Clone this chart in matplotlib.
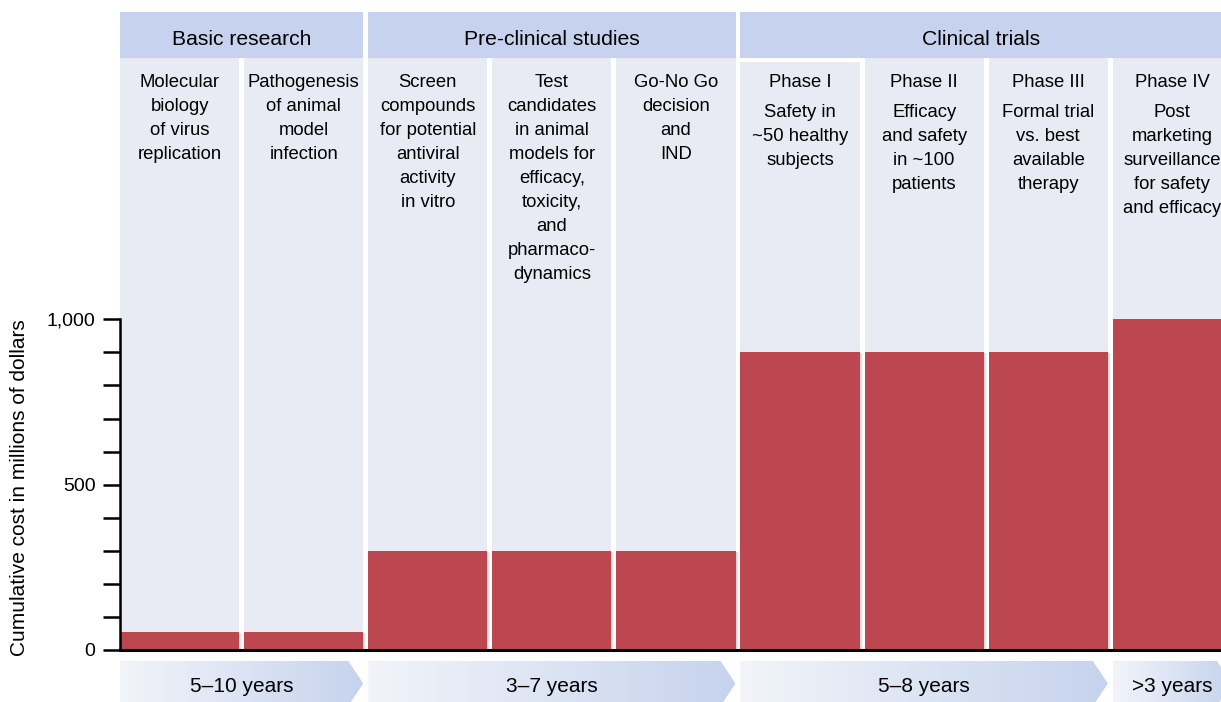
import numpy as np
import matplotlib.pyplot as plt
from matplotlib.patches import Rectangle, Polygon
from matplotlib.colors import LinearSegmentedColormap

plt.rcParams['font.family'] = ['Liberation Sans', 'DejaVu Sans']

## Data
stages = ["Basic research", "Pre-clinical studies", "Clinical trials"]
stage_cols = [(0, 1), (2, 4), (5, 8)]

col_titles = ["", "", "", "", "", "Phase I", "Phase II", "Phase III", "Phase IV"]
col_texts = [
    ["Molecular", "biology", "of virus", "replication"],
    ["Pathogenesis", "of animal", "model", "infection"],
    ["Screen", "compounds", "for potential", "antiviral", "activity", "in vitro"],
    ["Test", "candidates", "in animal", "models for", "efficacy,", "toxicity,", "and", "pharmaco-", "dynamics"],
    ["Go-No Go", "decision", "and", "IND"],
    ["Safety in", "~50 healthy", "subjects"],
    ["Efficacy", "and safety", "in ~100", "patients"],
    ["Formal trial", "vs. best", "available", "therapy"],
    ["Post", "marketing", "surveillance", "for safety", "and efficacy"],
]
cost = [55, 55, 300, 300, 300, 900, 900, 900, 1000]

durations = ["5\u201310 years", "3\u20137 years", "5\u20138 years", ">3 years"]
duration_cols = [(0, 1), (2, 4), (5, 7), (8, 8)]

## Styling
red = "#bd4750"
panel = "#e8ebf4"
header = "#c7d3ee"
pxu = 0.3307          # pixels per data unit in y
top = (650 - 12) / pxu
col_top = (650 - 58) / pxu
w = 0.96

def ypx(p):
    return (650 - p) / pxu

fig = plt.figure(figsize=(12.21, 7.02), dpi=100, facecolor="white")
ax = fig.add_axes([120/1221, 52/702, 1101/1221, 638/702])
x = np.arange(len(cost))
ax.set_xlim(-0.48, (1221 - 120)/124.1 - 0.48)
ax.set_ylim(0, top)

# column panels
panel_h = [col_top]*len(cost)
panel_h[5] = ypx(62)
ax.bar(x, panel_h, width=w, color=panel, zorder=1)

# cost bars plus a soft shadow at right
for xi, c in zip(x, cost):
    for k, a in enumerate([0.25, 0.15, 0.07]):
        ax.add_patch(Rectangle((xi + w/2 + k*0.008, 0), 0.008, c - 3, color="#555555",
                               alpha=a, lw=0, zorder=2))
ax.bar(x, cost, width=w, color=red, zorder=3)

# stage headers
for name, (a, b) in zip(stages, stage_cols):
    x0 = a - w/2
    x1 = b + w/2
    ax.add_patch(Rectangle((x0, ypx(58)), x1 - x0, top - ypx(58), color=header,
                           lw=0, zorder=1, clip_on=True))
    xc = (x0 + min(x1, ax.get_xlim()[1])) / 2
    ax.text(xc, ypx(45), name, ha="center", va="baseline", fontsize=15.2, zorder=4)

# column texts
for i in range(len(cost)):
    y0 = 87
    if col_titles[i]:
        ax.text(i, ypx(y0), col_titles[i], ha="center", va="baseline", fontsize=13.3,
                zorder=4, clip_on=True)
        y0 = 117
    for k, line in enumerate(col_texts[i]):
        ax.text(i, ypx(y0 + 24*k), line, ha="center", va="baseline", fontsize=13.3,
                zorder=4, clip_on=True)

# axes styling
for s in ["top", "right"]:
    ax.spines[s].set_visible(False)
ax.spines["left"].set_bounds(0, 1000)
ax.spines["left"].set_linewidth(1.8)
ax.spines["bottom"].set_linewidth(2.2)
ax.spines["left"].set_zorder(5)
ax.spines["bottom"].set_zorder(5)
ax.set_xticks([])
ax.set_yticks([0, 500, 1000])
ax.set_yticklabels(["0", "500", "1,000"], fontsize=14)
ax.set_yticks([100, 200, 300, 400, 600, 700, 800, 900], minor=True)
ax.tick_params(axis="y", which="both", length=12.2, width=1.8, pad=5.5)
ax.set_facecolor("none")
fig.text(20/1221, 1 - 488/702, "Cumulative cost in millions of dollars", rotation=90,
         ha="center", va="center", fontsize=15)

# duration arrows
ax2 = fig.add_axes([120/1221, 0, 1101/1221, 47/702])
ax2.set_xlim(ax.get_xlim())
ax2.set_ylim(702, 655)
ax2.axis("off")
cmap = LinearSegmentedColormap.from_list("arr", ["#f2f4f9", "#c6d3ee"])
grad = np.linspace(0, 1, 256).reshape(1, -1)
tip = 15/124.1
for label, (a, b) in zip(durations, duration_cols):
    x0 = a - w/2
    x1 = b + w/2
    poly = Polygon([(x0, 661), (x1 - tip, 661), (x1, 683.5), (x1 - tip, 706), (x0, 706)],
                   closed=True, facecolor="none", edgecolor="none")
    ax2.add_patch(poly)
    im = ax2.imshow(grad, cmap=cmap, extent=(x0, x1, 706, 661), aspect="auto", zorder=1)
    im.set_clip_path(poly)
    xc = (x0 + x1) / 2
    ax2.text(xc, 692.5, label, ha="center", va="baseline", fontsize=15, zorder=2)
ax2.set_xlim(ax.get_xlim())
ax2.set_ylim(702, 655)

plt.savefig("out.png", dpi=100)
